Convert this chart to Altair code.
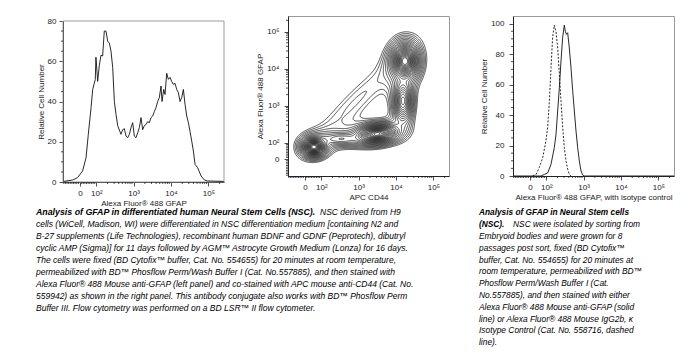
import numpy as np
import pandas as pd
import altair as alt

alt.data_transformers.disable_max_rows()

FONT = "Liberation Sans"

# ---------------- data ----------------
# Left panel: GFAP histogram of differentiated NSC (fluorescence, relative count)
gfap_x = [-100, -45, -15, 16, 37, 51, 68, 78, 94, 98,
          109, 121, 134, 148, 164, 182, 202, 224, 248, 275,
          305, 338, 374, 459, 509, 564, 626, 693, 768, 851,
          943, 1045, 1158, 1284, 1423, 1577, 1747, 1936, 2146, 2378,
          2636, 2921, 3237, 3587, 3975, 4406, 4883, 5411, 5755, 6378,
          6924, 7674, 8504, 9424, 10445, 11575, 12828, 14217, 15756, 17461,
          19351, 21446, 23766, 26339, 29190, 32350, 35851, 39733, 44033, 51895,
          63723, 78255, 96116, 257600]
gfap_count = [0.3, 1, 2.2, 5.5, 12.1, 23.7, 37, 46, 51, 62,
              50, 58, 63, 62.6, 75, 75, 70, 69, 65, 57,
              40, 33.6, 28, 23.7, 26, 26.5, 22.8, 22, 23.7, 27,
              29.5, 22.8, 22, 24.5, 27, 32, 26, 28, 28.6, 30,
              29.5, 32, 32.8, 35, 37, 40, 42, 47.7, 40, 46,
              43.5, 54, 51, 52, 50, 48.5, 49, 46, 44.4, 40,
              42, 46, 38.6, 32.8, 29.5, 25, 20.4, 15.4, 8.8, 7,
              3, 1, 0.5, 0.3]

# Right panel: anti-GFAP (solid) and isotype control (dashed)
anti_x = [-100, 67, 88, 109, 134, 164, 182, 202, 224, 248,
          275, 304, 324, 345, 374, 414, 459, 509, 564, 625,
          693, 768, 851, 943, 1045, 262143]
anti_count = [0, 0, 1, 2, 7.7, 18.6, 27, 42.7, 58, 75.5,
              91, 99, 95, 93, 94, 84, 71, 56, 42.7, 29.5,
              18.6, 9.8, 3.3, 0.7, 0, 0]
iso_x = [16, 37, 57, 78, 98, 109, 121, 134, 148, 164,
         182, 202, 224, 248, 275, 304, 337, 374, 414, 459]
iso_count = [0, 1, 5.5, 12, 23, 32, 49, 71, 91, 99,
             95, 84, 67, 49, 32, 18.6, 10, 4.4, 1, 0]

# Middle panel: populations seen in the CD44 / GFAP contour plot
pop_cd44 = [55, 3100, 17400, 15400, 340, 849]
pop_gfap = [75, 174, 16000, 1350, 128, 1348]
pop_spread_cd44 = [0.16, 0.29, 0.19, 0.2, 0.6, 2.4]    # decades
pop_spread_gfap = [0.13, 0.14, 0.25, 0.45, 0.2, 0.55]  # decades
pop_tilt = [0, 6, 0, 0, 0, 45]
pop_weight = [1.0, 0.9, 1.0, 0.2, 0.05, 0.017]
contour_levels = [0.012 * 1.2 ** k for k in range(24)]

major_ticks = [0, 100, 1000, 10000, 100000]
minor_ticks = (list(range(-100, 0, 10)) + list(range(10, 100, 10))
               + [k * 10 ** n for n in (2, 3, 4) for k in range(2, 10)] + [200000])

cap1_bold = "Analysis of GFAP in differentiated human Neural Stem Cells (NSC)."
cap1_rest = "NSC derived from H9"
cap1_lines = [
    "cells (WiCell, Madison, WI) were differentiated in NSC differentiation medium [containing N2 and",
    "B-27 supplements (Life Technologies), recombinant human BDNF and GDNF (Peprotech), dibutryl",
    "cyclic AMP (Sigma)] for 11 days followed by AGM™ Astrocyte Growth Medium (Lonza) for 16 days.",
    "The cells were fixed (BD Cytofix™ buffer, Cat. No. 554655) for 20 minutes at room temperature,",
    "permeabilized with BD™ Phosflow Perm/Wash Buffer I (Cat. No.557885), and then stained with",
    "Alexa Fluor® 488 Mouse anti-GFAP (left panel) and co-stained with APC mouse anti-CD44 (Cat. No.",
    "559942) as shown in the right panel. This antibody conjugate also works with BD™ Phosflow Perm",
    "Buffer III. Flow cytometry was performed on a BD LSR™ II flow cytometer.",
]
cap2_bold = ["Analysis of GFAP in Neural Stem cells", "(NSC)."]
cap2_rest = "NSC were isolated by sorting from"
cap2_lines = [
    "Embryoid bodies and were grown for 8",
    "passages post sort, fixed (BD Cytofix™",
    "buffer, Cat. No. 554655) for 20 minutes at",
    "room temperature, permeabilized with BD™",
    "Phosflow Perm/Wash Buffer I (Cat.",
    "No.557885), and then stained with either",
    "Alexa Fluor® 488 Mouse anti-GFAP (solid",
    "line) or Alexa Fluor® 488 Mouse IgG2b, κ",
    "Isotype Control (Cat. No. 558716, dashed",
    "line).",
]

# ---------------- biexponential-like display transform ----------------
T0 = 2 - 1 / np.log(10)
LIN = 100 * np.log(10)


def to_t(v):
    v = np.asarray(v, float)
    return np.where(v < 100, T0 + v / LIN, np.log10(np.clip(v, 100, None)))


def from_t(t):
    t = np.asarray(t, float)
    return np.where(t < 2, (t - T0) * LIN, 10 ** t)


def texpr(f):
    return f"datum.{f} < 100 ? {T0:.9f} + datum.{f} / {LIN:.7f} : log(datum.{f}) / LN10"


T_MIN, T_MAX = float(to_t(-105)), float(to_t(262143))
MAJOR_T = [float(to_t(v)) for v in major_ticks]
LABEL_EXPR = "datum.value < 1.8 ? '0' : '10' + ['', '', '²', '³', '⁴', '⁵'][round(datum.value)]"

# ---------------- contour lines for the middle panel ----------------
gx = np.linspace(T_MIN, T_MAX, 260)
gy = np.linspace(T_MIN, T_MAX, 260)
TX, TY = np.meshgrid(gx, gy)
F = np.zeros_like(TX)
for cx, cy, sx, sy, ang, w in zip(pop_cd44, pop_gfap, pop_spread_cd44,
                                  pop_spread_gfap, pop_tilt, pop_weight):
    a = np.radians(ang)
    dx = TX - to_t(cx)
    dy = TY - to_t(cy)
    u = dx * np.cos(a) + dy * np.sin(a)
    v = -dx * np.sin(a) + dy * np.cos(a)
    F += w / (1 + (u / sx) ** 2 + (v / sy) ** 2) ** 2

TABLE = {1: [(3, 0)], 2: [(0, 1)], 3: [(3, 1)], 4: [(1, 2)], 5: [(3, 0), (1, 2)],
         6: [(0, 2)], 7: [(3, 2)], 8: [(2, 3)], 9: [(0, 2)], 10: [(0, 1), (2, 3)],
         11: [(1, 2)], 12: [(1, 3)], 13: [(0, 1)], 14: [(3, 0)]}


def march(level):
    B = (F >= level).astype(np.int8)
    case = B[:-1, :-1] + 2 * B[:-1, 1:] + 4 * B[1:, 1:] + 8 * B[1:, :-1]
    adj = {}
    js, iis = np.nonzero((case > 0) & (case < 15))
    for j, i in zip(js.tolist(), iis.tolist()):
        edges = (("h", j, i), ("v", j, i + 1), ("h", j + 1, i), ("v", j, i))
        for a, b in TABLE[int(case[j, i])]:
            adj.setdefault(edges[a], []).append(edges[b])
            adj.setdefault(edges[b], []).append(edges[a])

    def point(e):
        kind, j, i = e
        if kind == "h":
            f0, f1 = F[j, i], F[j, i + 1]
            s = (level - f0) / (f1 - f0)
            return gx[i] + s * (gx[i + 1] - gx[i]), gy[j]
        f0, f1 = F[j, i], F[j + 1, i]
        s = (level - f0) / (f1 - f0)
        return gx[i], gy[j] + s * (gy[j + 1] - gy[j])

    seen = set()

    def walk(start):
        seq = [start]
        seen.add(start)
        cur = start
        while True:
            nxt = next((n for n in adj[cur] if n not in seen), None)
            if nxt is None:
                if len(seq) > 2 and start in adj[cur]:
                    seq.append(start)
                break
            seq.append(nxt)
            seen.add(nxt)
            cur = nxt
        return [point(e) for e in seq]

    paths = []
    for e, nb in adj.items():
        if len(nb) == 1 and e not in seen:
            paths.append(walk(e))
    for e in list(adj):
        if e not in seen:
            paths.append(walk(e))
    return paths


rows = []
pid = 0
for lev in contour_levels:
    for path in march(lev):
        pts = np.array(path)
        xs = from_t(pts[:, 0])
        ys = from_t(pts[:, 1])
        for k, (xv, yv) in enumerate(zip(xs, ys)):
            rows.append((pid, k, round(float(xv), 3), round(float(yv), 3)))
        pid += 1
contour_df = pd.DataFrame(rows, columns=["path", "k", "cd44", "gfap"])

# ---------------- encodings ----------------
W = 161
H1 = 166   # panel 1 group height (plot drawn from 5 to 166)
H = 160


def x_enc(title):
    return alt.X("tx:Q", scale=alt.Scale(domain=[T_MIN, T_MAX], nice=False, zero=False),
                 axis=alt.Axis(values=MAJOR_T, labelExpr=LABEL_EXPR, title=title, tickSize=4,
                               labelPadding=3, titlePadding=2, grid=False, labelFlush=False,
                               labelOverlap=False))


def y_t_enc(title):
    return alt.Y("ty:Q", scale=alt.Scale(domain=[T_MIN, T_MAX], nice=False, zero=False),
                 axis=alt.Axis(values=MAJOR_T, labelExpr=LABEL_EXPR, title=title, tickSize=4,
                               labelPadding=5, titlePadding=2, grid=False, labelFlush=False,
                               labelOverlap=False))


def y_hist(dmax, rng, values, pad):
    sc = alt.Scale(domain=[0, dmax], nice=False, zero=False)
    if rng is not None:
        sc = alt.Scale(domain=[0, dmax], nice=False, zero=False, range=rng)
    return alt.Y("count:Q", scale=sc,
                 axis=alt.Axis(values=values, title="Relative Cell Number", tickSize=4,
                               labelPadding=pad, titlePadding=2, grid=False, labelFlush=False))


one = pd.DataFrame({"a": [0]})
minor_df = pd.DataFrame({"v": minor_ticks})


def text_layer(text, x, y, size, weight, lh=None):
    kw = dict(text=text, align="left", baseline="top", font=FONT, fontSize=size,
              fontStyle="italic", fontWeight=weight, color="#000")
    if lh is not None:
        kw["lineHeight"] = lh
    return alt.Chart(one).mark_text(**kw).encode(x=alt.value(x), y=alt.value(y))


# ---------------- panel 1 ----------------
t1 = "Alexa Fluor® 488 GFAP"
y1 = y_hist(80, [H1, 5], [0, 20, 40, 60, 80], 3)
frame1 = alt.Chart(one).mark_rect(fillOpacity=0, stroke="#9a9a9a", strokeWidth=1).encode(
    x=alt.value(0), x2=alt.value(W), y=alt.value(5), y2=alt.value(H1))
line1 = alt.Chart(pd.DataFrame({"v": gfap_x, "count": gfap_count})).mark_line(
    color="#111", strokeWidth=0.9, clip=True).transform_calculate(tx=texpr("v")).encode(
    x=x_enc(t1), y=y1)
minx1 = alt.Chart(minor_df).mark_rule(color="#222", strokeWidth=0.8).transform_calculate(
    tx=texpr("v")).encode(x=x_enc(t1), y=alt.value(H1), y2=alt.value(H1 + 2))
miny1 = alt.Chart(pd.DataFrame({"count": [v for v in range(5, 80, 5) if v % 20]})).mark_rule(
    color="#222", strokeWidth=0.8).encode(y=y1, x=alt.value(0), x2=alt.value(-2))
cap1 = [
    text_layer(cap1_bold, -27, 192.4, 8.8, "bold"),
    text_layer(cap1_rest, 257, 192.4, 8.5, "normal"),
    text_layer(cap1_lines, -27, 204.4, 8.5, "normal", 12),
]
panel1 = alt.layer(frame1, line1, minx1, miny1, *cap1).properties(
    width=W, height=H1, view=alt.ViewBackground(stroke="transparent"))

# ---------------- panel 2 ----------------
contours = alt.Chart(contour_df).mark_line(color="#111", strokeWidth=0.75, clip=True).transform_calculate(
    tx=texpr("cd44"), ty=texpr("gfap")).encode(
    x=x_enc("APC CD44"), y=y_t_enc(t1), detail="path:N", order="k:Q")
minx2 = alt.Chart(minor_df).mark_rule(color="#222", strokeWidth=0.8).transform_calculate(
    tx=texpr("v")).encode(x=x_enc("APC CD44"), y=alt.value(H), y2=alt.value(H + 2))
miny2 = alt.Chart(minor_df).mark_rule(color="#222", strokeWidth=0.8).transform_calculate(
    ty=texpr("v")).encode(y=y_t_enc(t1), x=alt.value(0), x2=alt.value(-2))
panel2 = alt.layer(contours, minx2, miny2).properties(width=W, height=H)

# ---------------- panel 3 ----------------
t3 = "Alexa Fluor® 488 GFAP, with isotype control"
y3 = y_hist(105, None, [0, 20, 40, 60, 80, 100], 5)
solid = alt.Chart(pd.DataFrame({"v": anti_x, "count": anti_count})).mark_line(
    color="#111", strokeWidth=0.9, clip=True).transform_calculate(tx=texpr("v")).encode(
    x=x_enc(t3), y=y3)
dashed = alt.Chart(pd.DataFrame({"v": iso_x, "count": iso_count})).mark_line(
    color="#111", strokeWidth=0.9, strokeDash=[2, 1.6], clip=True).transform_calculate(
    tx=texpr("v")).encode(x=x_enc(t3), y=y3)
minx3 = alt.Chart(minor_df).mark_rule(color="#222", strokeWidth=0.8).transform_calculate(
    tx=texpr("v")).encode(x=x_enc(t3), y=alt.value(H), y2=alt.value(H + 2))
miny3 = alt.Chart(pd.DataFrame({"count": [v for v in range(5, 105, 5) if v % 20]})).mark_rule(
    color="#222", strokeWidth=0.8).encode(y=y3, x=alt.value(0), x2=alt.value(-2))
cap2 = [
    text_layer(cap2_bold, -34, 192.4, 8.3, "bold", 11.8),
    text_layer(cap2_rest, 0, 204.2, 8.4, "normal"),
    text_layer(cap2_lines, -34, 216.0, 8.4, "normal", 11.8),
]
panel3 = alt.layer(solid, dashed, minx3, miny3, *cap2).properties(width=W, height=H)

chart = alt.hconcat(panel1, panel2, panel3, spacing=64, bounds="flush").properties(
    padding={"left": 35, "top": 15, "right": 5, "bottom": 5}
).configure(font=FONT).configure_view(stroke="#9a9a9a", strokeWidth=1).configure_axis(
    labelFont=FONT, titleFont=FONT, labelFontSize=8, titleFontSize=8, labelColor="#222",
    titleColor="#222", titleFontWeight="normal", tickColor="#222", domainColor="#222",
    domainWidth=1, tickWidth=0.8, grid=False)

chart.save("out.html", embed_options={"renderer": "svg", "actions": False})
